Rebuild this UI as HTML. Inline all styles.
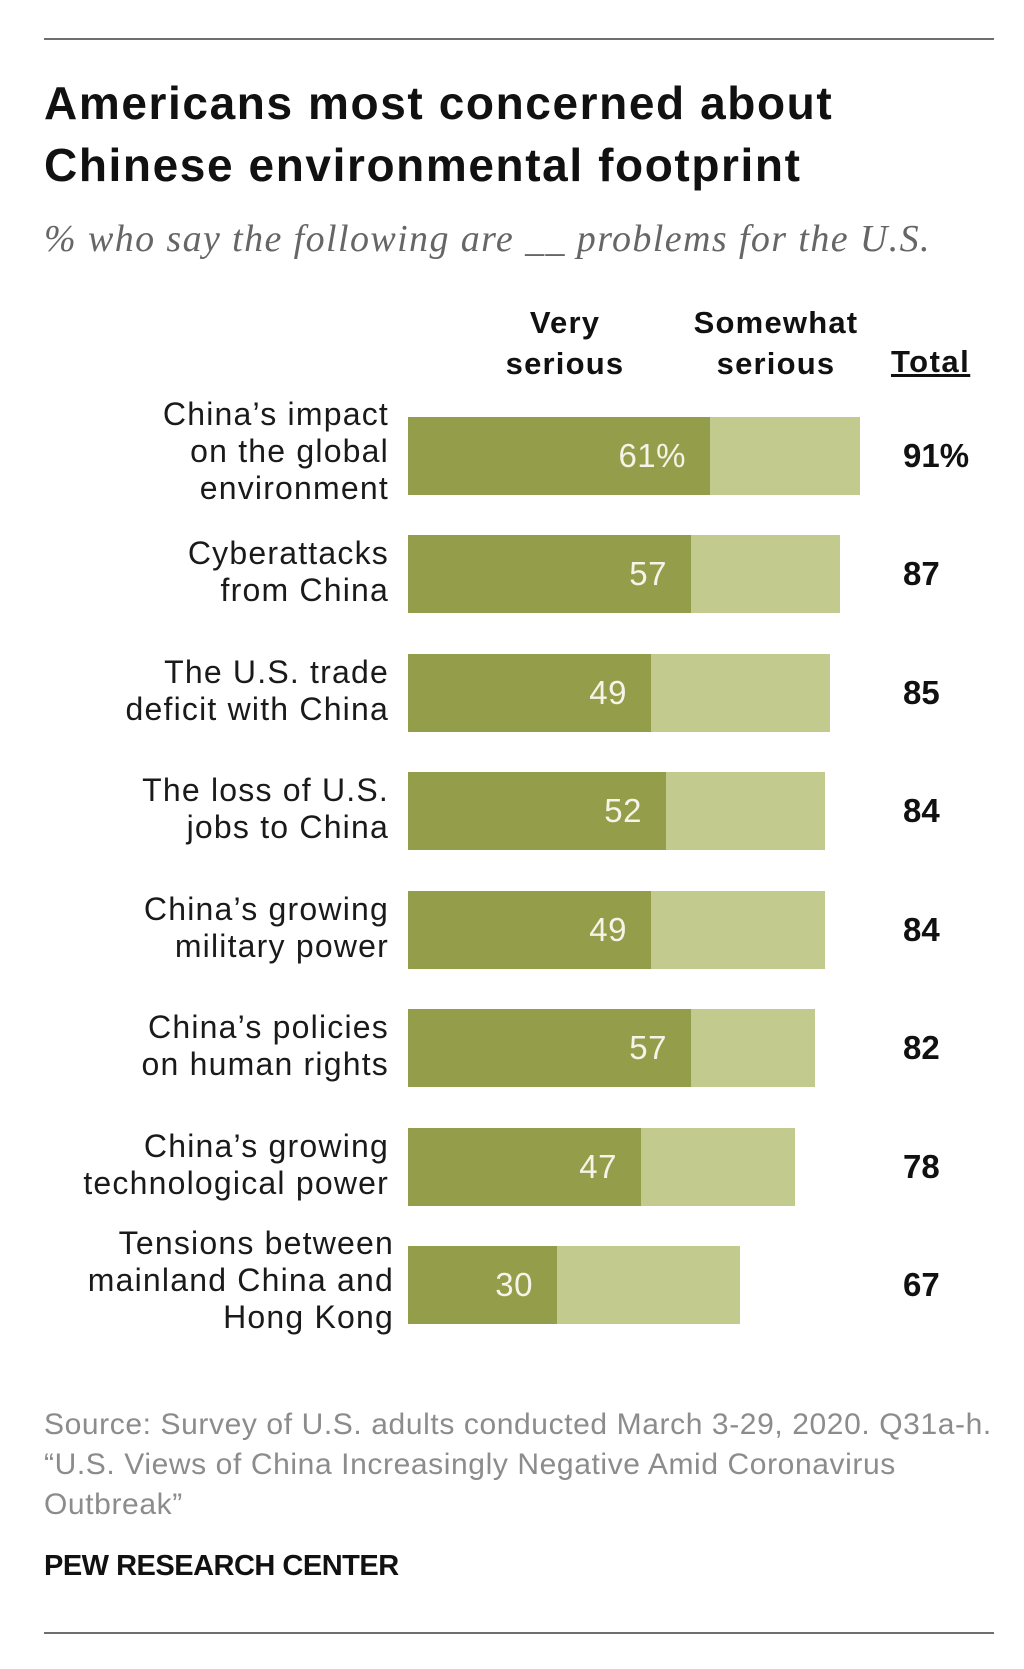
<!DOCTYPE html>
<html><head><meta charset="utf-8"><style>
body{margin:0;width:1024px;height:1669px;background:#fff;position:relative;overflow:hidden;font-family:"Liberation Sans",sans-serif;color:#111}
.a{position:absolute;white-space:nowrap}
.hr{position:absolute;left:44px;width:950px;height:2px;background:#6e6e6e}
.lab{position:absolute;right:635px;text-align:right;font-size:32px;line-height:37px;color:#1a1a1a;letter-spacing:1.2px}
.bar{position:absolute;left:408px;height:78px}
.d{position:absolute;left:0;top:0;height:78px;background:#939d4a;color:#f4f4e8;font-size:33px;line-height:78px;text-align:right;box-sizing:border-box;padding-right:24px;letter-spacing:0.5px}
.l{position:absolute;top:0;height:78px;background:#c3ca8e}
.t{position:absolute;left:903px;font-size:33px;font-weight:bold;line-height:78px}
.h{position:absolute;font-size:31px;font-weight:bold;text-align:center;line-height:41px;letter-spacing:1.2px}
</style></head><body>
<div class="hr" style="top:38px"></div>
<div class="a" style="left:44px;top:72px;font-size:46px;font-weight:bold;line-height:62px;letter-spacing:1.6px">Americans most concerned about<br>Chinese environmental footprint</div>
<div class="a" style="left:44px;top:216px;font-family:'Liberation Serif',serif;font-style:italic;font-size:38px;color:#666;line-height:46px;letter-spacing:1.4px">% who say the following are __ problems for the U.S.</div>
<div class="h" style="left:455px;width:220px;top:302px">Very<br>serious</div>
<div class="h" style="left:656px;width:240px;top:302px">Somewhat<br>serious</div>
<div class="a" style="left:891px;top:342px;font-size:31px;font-weight:bold;text-decoration:underline;line-height:40px;letter-spacing:1.5px">Total</div>

<div class="lab" style="top:396px">China’s impact<br>on the global<br>environment</div>
<div class="bar" style="top:417px"><div class="d" style="width:302px">61%</div><div class="l" style="left:302px;width:150px"></div></div>
<div class="t" style="top:417px">91%</div>

<div class="lab" style="top:535px">Cyberattacks<br>from China</div>
<div class="bar" style="top:535px"><div class="d" style="width:283px">57</div><div class="l" style="left:283px;width:149px"></div></div>
<div class="t" style="top:535px">87</div>

<div class="lab" style="top:654px">The U.S. trade<br>deficit with China</div>
<div class="bar" style="top:654px"><div class="d" style="width:243px">49</div><div class="l" style="left:243px;width:179px"></div></div>
<div class="t" style="top:654px">85</div>

<div class="lab" style="top:772px">The loss of U.S.<br>jobs to China</div>
<div class="bar" style="top:772px"><div class="d" style="width:258px">52</div><div class="l" style="left:258px;width:159px"></div></div>
<div class="t" style="top:772px">84</div>

<div class="lab" style="top:891px">China’s growing<br>military power</div>
<div class="bar" style="top:891px"><div class="d" style="width:243px">49</div><div class="l" style="left:243px;width:174px"></div></div>
<div class="t" style="top:891px">84</div>

<div class="lab" style="top:1009px">China’s policies<br>on human rights</div>
<div class="bar" style="top:1009px"><div class="d" style="width:283px">57</div><div class="l" style="left:283px;width:124px"></div></div>
<div class="t" style="top:1009px">82</div>

<div class="lab" style="top:1128px">China’s growing<br>technological power</div>
<div class="bar" style="top:1128px"><div class="d" style="width:233px">47</div><div class="l" style="left:233px;width:154px"></div></div>
<div class="t" style="top:1128px">78</div>

<div class="lab" style="top:1225px;right:630px">Tensions between<br>mainland China and<br>Hong Kong</div>
<div class="bar" style="top:1246px"><div class="d" style="width:149px">30</div><div class="l" style="left:149px;width:183px"></div></div>
<div class="t" style="top:1246px">67</div>

<div class="a" style="left:44px;top:1405px;font-size:30px;line-height:40px;color:#8c8c8c;letter-spacing:0.6px">Source: Survey of U.S. adults conducted March 3-29, 2020. Q31a-h.<br>“U.S. Views of China Increasingly Negative Amid Coronavirus<br>Outbreak”</div>
<div class="a" style="left:44px;top:1547px;font-size:29px;font-weight:bold;line-height:38px;letter-spacing:-0.5px">PEW RESEARCH CENTER</div>
<div class="hr" style="top:1632px"></div>
</body></html>
